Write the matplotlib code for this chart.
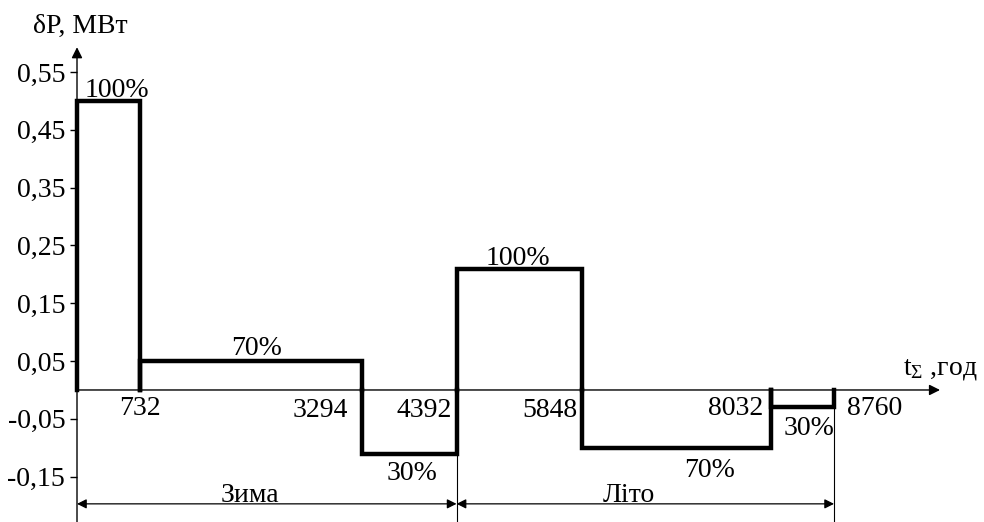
import matplotlib
matplotlib.use("Agg")
import matplotlib.pyplot as plt

# ---- data ----
edges = [0, 732, 3294, 4392, 5848, 8032, 8760]
levels = [0.5, 0.05, -0.11, 0.21, -0.1, -0.03]
pct_labels = ["100%", "70%", "30%", "100%", "70%", "30%"]
edge_labels = ["732", "3294", "4392", "5848", "8032", "8760"]
yticks = [0.55, 0.45, 0.35, 0.25, 0.15, 0.05, -0.05, -0.15]
ytick_labels = ["0,55", "0,45", "0,35", "0,25", "0,15", "0,05", "-0,05", "-0,15"]
season_labels = ["Зима", "Літо"]
season_bounds = [(0, 4392), (4392, 8760)]

plt.rcParams["font.family"] = ["Liberation Serif", "DejaVu Serif"]
plt.rcParams["mathtext.fontset"] = "custom"
plt.rcParams["mathtext.rm"] = "Liberation Serif"
plt.rcParams["mathtext.it"] = "Liberation Serif:italic"

fig = plt.figure(figsize=(9.84, 5.22), dpi=100)
ax = fig.add_axes([0, 0, 1, 1])
ax.set_xlim(-891, 10495)
ax.set_ylim(-0.2284, 0.6747)
for s in ax.spines.values():
    s.set_visible(False)

FS = 20
# y axis ticks at x=0
ax.spines["left"].set_position(("data", 0))
ax.spines["left"].set_visible(True)
ax.spines["left"].set_color("none")
ax.set_yticks(yticks)
ax.set_yticklabels(ytick_labels, fontsize=FS)
ax.tick_params(axis="y", direction="out", length=5, width=1, pad=3.5)
ax.set_xticks([])

# axes with arrows
ax.annotate("", xy=(0, 0.593), xytext=(0, -0.23),
            arrowprops=dict(arrowstyle="-|>", lw=1, color="black",
                            mutation_scale=16, shrinkA=0, shrinkB=0))
ax.annotate("", xy=(9986, 0), xytext=(0, 0),
            arrowprops=dict(arrowstyle="-|>", lw=1, color="black",
                            mutation_scale=16, shrinkA=0, shrinkB=0))

# bars (outline without baseline)
for i, v in enumerate(levels):
    x0, x1 = edges[i], edges[i + 1]
    ax.plot([x0, x0, x1, x1], [0, v, v, 0], color="black", lw=3.2,
            solid_joinstyle="miter", solid_capstyle="projecting", zorder=3)

# percent labels
pct_pos = [(457, 0.507), (2083, 0.0606), (3876, -0.156),
           (5103, 0.216), (7325, -0.1505), (8470, -0.078)]
for lab, (x, y) in zip(pct_labels, pct_pos):
    ax.text(x, y, lab, fontsize=FS, ha="center", va="baseline")

# edge labels
edge_pos = [(729, -0.0433, "center"), (3136, -0.0467, "right"),
            (4339, -0.0467, "right"), (5786, -0.0467, "right"),
            (7938, -0.0433, "right"), (8910, -0.0433, "left")]
for lab, (x, y, ha) in zip(edge_labels, edge_pos):
    ax.text(x, y, lab, fontsize=FS, ha=ha, va="baseline")

# extension lines
ax.plot([4392, 4392], [-0.11, -0.23], color="black", lw=0.8)
ax.plot([8760, 8760], [0, -0.23], color="black", lw=0.8)

# season dimension arrows
ydim = -0.197
for lab, (a, b) in zip(season_labels, season_bounds):
    ax.annotate("", xy=(b, ydim), xytext=(a, ydim),
                arrowprops=dict(arrowstyle="<|-|>", lw=0.9, color="black",
                                mutation_scale=14, shrinkA=0, shrinkB=0))
    ax.text((a + b) / 2 - 190, ydim + 0.004, lab, fontsize=FS, ha="center",
            va="baseline")

# axis titles
ax.text(-509, 0.618, "δP, МВт", fontsize=FS, ha="left", va="baseline")
ax.text(9558, 0.026, r"t$_{\Sigma}$ ,год", fontsize=FS, ha="left", va="baseline")

fig.savefig("out.png", dpi=100)
